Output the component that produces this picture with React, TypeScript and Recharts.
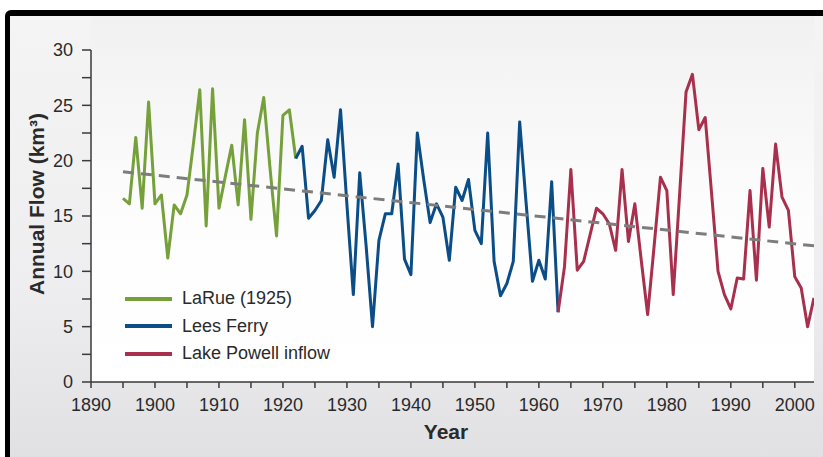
import React from "react";
import { LineChart, Line, XAxis, YAxis, Legend, Label } from "recharts";

// annual flow, km³
const laRueStart = 1895;
const laRueFlow = [
  16.6, 16.1, 22.1, 15.7, 25.3, 16.1, 16.9, 11.2, 16.0, 15.2, 16.9, 21.5, 26.4, 14.1,
  26.5, 15.7, 18.6, 21.4, 16.0, 23.7, 14.7, 22.5, 25.7, 19.2, 13.2, 24.1, 24.6, 20.2,
];
const leesStart = 1922;
const leesFlow = [
  20.2, 21.3, 14.8, 15.5, 16.4, 21.9, 18.5, 24.6, 16.0, 7.9, 18.9, 12.3, 5.0, 12.8,
  15.2, 15.2, 19.7, 11.1, 9.7, 22.5, 18.3, 14.4, 16.1, 14.9, 11.0, 17.6, 16.4, 18.3,
  13.7, 12.5, 22.5, 10.9, 7.8, 8.9, 10.9, 23.5, 16.2, 9.1, 11.0, 9.3, 18.1, 6.3,
];
const powellStart = 1963;
const powellFlow = [
  6.3, 10.4, 19.2, 10.1, 10.9, 13.3, 15.7, 15.2, 14.3, 11.9, 19.2, 12.7, 16.1, 11.0,
  6.1, 12.2, 18.5, 17.3, 7.9, 17.0, 26.2, 27.8, 22.8, 23.9, 17.0, 10.0, 7.9, 6.6,
  9.4, 9.3, 17.3, 9.2, 19.3, 14.0, 21.5, 16.7, 15.5, 9.5, 8.5, 5.0, 7.6,
];
const trendYears = [1895, 2003];
const trendFlow = [19.0, 12.3];

const xTicks = [
  1890, 1895, 1900, 1905, 1910, 1915, 1920, 1925, 1930, 1935, 1940, 1945, 1950,
  1955, 1960, 1965, 1970, 1975, 1980, 1985, 1990, 1995, 2000,
];
const yTicks = [0, 2.5, 5, 7.5, 10, 12.5, 15, 17.5, 20, 22.5, 25, 27.5, 30];

const legendItems = [
  { name: "LaRue (1925)", color: "#76a03a" },
  { name: "Lees Ferry", color: "#0b4d87" },
  { name: "Lake Powell inflow", color: "#a8304d" },
];

type Row = { year: number; [k: string]: number };
const rows = new Map<number, Row>();
const put = (year: number, key: string, v: number) => {
  const r = rows.get(year) ?? { year };
  r[key] = v;
  rows.set(year, r);
};
laRueFlow.forEach((v, i) => put(laRueStart + i, "larue", v));
leesFlow.forEach((v, i) => put(leesStart + i, "lees", v));
powellFlow.forEach((v, i) => put(powellStart + i, "powell", v));
trendYears.forEach((y, i) => put(y, "trend", trendFlow[i]));
const data = [...rows.values()].sort((a, b) => a.year - b.year);

const font = "'Liberation Sans', Arial, sans-serif";
const ink = "#2a2a2a";
const axisColor = "#3a3a3a";

function LegendBox() {
  return (
    <div style={{ fontFamily: font, fontSize: 18, color: ink }}>
      {legendItems.map((it) => (
        <div key={it.name} style={{ display: "flex", alignItems: "center", height: 27.5 }}>
          <span style={{ display: "inline-block", width: 47, height: 4, background: it.color, marginRight: 10 }} />
          <span>{it.name}</span>
        </div>
      ))}
    </div>
  );
}

export default function App() {
  return (
    <div style={{ position: "fixed", left: 0, top: 0, width: 823, height: 457, overflow: "hidden", background: "#fff" }}>
      <div
        style={{
          position: "absolute",
          left: 5,
          top: 10,
          right: -10,
          bottom: -10,
          borderTop: "6px solid #000",
          borderLeft: "5px solid #000",
          borderTopLeftRadius: 6,
          background: "linear-gradient(to bottom, #f4f4f4 0%, #eeeef0 60%, #e0e0e3 100%)",
        }}
      />
      <div
        style={{
          position: "absolute",
          left: 91,
          top: 16,
          width: 723,
          height: 366,
          background: "linear-gradient(to bottom, #f1f1f1 0%, #fdfdfd 55%, #ffffff 100%)",
        }}
      />
      <div style={{ position: "absolute", left: 0, top: 0 }}>
        <LineChart width={823} height={457} data={data} margin={{ top: 50, right: 9, bottom: 0, left: 0 }}>
          <XAxis
            dataKey="year"
            type="number"
            domain={[1890, 2003]}
            ticks={xTicks}
            interval={0}
            tickFormatter={(v: number) => (v % 10 === 0 ? String(v) : "")}
            tick={{ fontSize: 18, fill: ink, fontFamily: font }}
            tickSize={6}
            tickMargin={10}
            height={75}
            stroke={axisColor}
            strokeWidth={1.5}
            allowDataOverflow
          >
            <Label
              content={() => (
                <text x={446} y={439} textAnchor="middle" fontFamily={font} fontSize={21} fontWeight="bold" fill={ink}>
                  Year
                </text>
              )}
            />
          </XAxis>
          <YAxis
            type="number"
            domain={[0, 30]}
            ticks={yTicks}
            interval={0}
            tickFormatter={(v: number) => (v % 5 === 0 ? String(v) : "")}
            tick={{ fontSize: 18, fill: ink, fontFamily: font }}
            tickSize={9}
            tickMargin={9}
            width={91}
            stroke={axisColor}
            strokeWidth={1.5}
          >
            <Label
              content={() => (
                <text
                  x={44}
                  y={204}
                  transform="rotate(-90 44 204)"
                  textAnchor="middle"
                  fontFamily={font}
                  fontSize={21}
                  fontWeight="bold"
                  fill={ink}
                >
                  Annual Flow (km³)
                </text>
              )}
            />
          </YAxis>
          <Legend
            layout="vertical"
            verticalAlign="middle"
            align="center"
            wrapperStyle={{ left: 125, top: 285, width: 260 }}
            content={() => <LegendBox />}
          />
          <Line dataKey="larue" stroke={legendItems[0].color} strokeWidth={3} dot={false} isAnimationActive={false} strokeLinejoin="round" />
          <Line dataKey="lees" stroke={legendItems[1].color} strokeWidth={3} dot={false} isAnimationActive={false} strokeLinejoin="round" />
          <Line dataKey="powell" stroke={legendItems[2].color} strokeWidth={3} dot={false} isAnimationActive={false} strokeLinejoin="round" />
          <Line
            dataKey="trend"
            stroke="#7d7d7d"
            strokeWidth={3}
            strokeDasharray="11 7"
            dot={false}
            connectNulls
            isAnimationActive={false}
            legendType="none"
          />
        </LineChart>
      </div>
    </div>
  );
}
